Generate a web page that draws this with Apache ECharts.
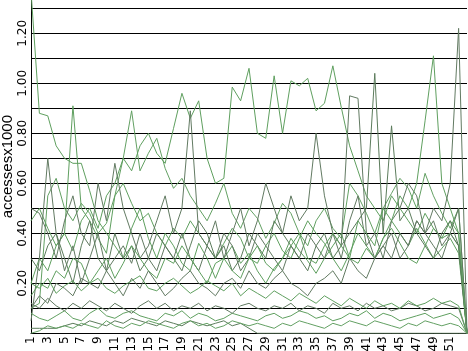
<!DOCTYPE html>
<html><head><meta charset="utf-8">
<script src="https://cdn.jsdelivr.net/npm/echarts@6/dist/echarts.min.js"></script>
<style>html,body{margin:0;padding:0;background:#fff}#c{width:468px;height:351px}</style>
</head><body><div id="c"></div>
<script>
const categories = Array.from({length:53},(_,i)=>String(i+1));
const yTicks = [0.2,0.4,0.6,0.8,1.0,1.2];
const s1 = [1.37,0.88,0.87,0.75,0.70,0.68,0.68,0.57,0.45,0.40,0.35,0.30,0.42,0.50,0.38,0.30,0.40,0.35,0.28,0.25,0.36,0.30,0.22,0.30,0.35,0.28,0.32,0.25,0.20,0.26,0.30,0.38,0.33,0.29,0.24,0.30,0.35,0.40,0.30,0.28,0.34,0.30,0.38,0.45,0.40,0.35,0.42,0.36,0.30,0.34,0.38,0.32,0];
const s2 = [0.45,0.50,0.42,0.35,0.40,0.91,0.50,0.45,0.38,0.32,0.55,0.60,0.52,0.45,0.48,0.40,0.35,0.42,0.38,0.45,0.40,0.35,0.30,0.36,0.42,0.38,0.30,0.28,0.35,0.40,0.33,0.30,0.38,0.45,0.40,0.36,0.30,0.25,0.32,0.40,0.35,0.30,0.38,0.42,0.36,0.30,0.28,0.35,0.42,0.38,0.40,0.35,0];
const s3 = [0.10,0.12,0.55,0.62,0.50,0.45,0.52,0.48,0.40,0.44,0.55,0.70,0.89,0.65,0.72,0.78,0.66,0.58,0.62,0.55,0.50,0.45,0.52,0.60,0.48,0.42,0.50,0.46,0.38,0.44,0.52,0.48,0.40,0.35,0.45,0.50,0.42,0.38,0.60,0.55,0.48,0.40,0.50,0.56,0.62,0.58,0.50,0.64,0.55,0.48,0.42,0.50,0];
const s4 = [0.20,0.30,0.25,0.35,0.40,0.33,0.45,0.50,0.42,0.55,0.60,0.70,0.65,0.75,0.80,0.72,0.68,0.82,0.96,0.86,0.93,0.70,0.60,0.62,0.985,0.93,1.06,0.80,0.78,1.03,0.80,1.01,0.99,1.02,0.89,0.92,1.07,0.905,0.75,0.65,0.55,0.50,0.45,0.55,0.50,0.45,0.40,0.48,0.42,0.38,0.45,0.40,0];
const s5 = [0.50,0.48,0.40,0.30,0.45,0.55,0.40,0.35,0.60,0.45,0.68,0.50,0.40,0.30,0.35,0.45,0.55,0.40,0.50,0.89,0.40,0.35,0.45,0.30,0.40,0.50,0.35,0.45,0.60,0.50,0.40,0.55,0.45,0.50,0.80,0.55,0.40,0.30,0.45,0.55,0.35,0.40,0.30,0.45,0.50,0.60,0.55,0.40,0.45,0.35,0.40,0.50,0];
const s6 = [0.05,0.30,0.70,0.40,0.25,0.35,0.20,0.30,0.40,0.25,0.30,0.35,0.28,0.40,0.30,0.25,0.35,0.30,0.40,0.30,0.25,0.35,0.30,0.40,0.35,0.25,0.30,0.40,0.35,0.30,0.25,0.35,0.30,0.40,0.35,0.30,0.40,0.35,0.95,0.94,0.40,0.30,0.35,0.40,0.30,0.35,0.45,0.40,0.35,0.30,0.40,0.35,0];
const s7 = [0.30,0.25,0.35,0.40,0.30,0.20,0.35,0.45,0.30,0.25,0.40,0.30,0.35,0.25,0.30,0.40,0.35,0.30,0.25,0.35,0.45,0.40,0.30,0.35,0.25,0.30,0.40,0.35,0.30,0.45,0.40,0.35,0.30,0.25,0.35,0.40,0.30,0.35,0.40,0.45,0.50,1.04,0.40,0.83,0.45,0.50,0.40,0.35,0.30,0.40,0.45,0.35,0];
const s8 = [0.15,0.20,0.18,0.25,0.22,0.30,0.28,0.20,0.25,0.30,0.22,0.28,0.35,0.30,0.25,0.22,0.30,0.28,0.35,0.30,0.25,0.20,0.28,0.30,0.25,0.22,0.30,0.35,0.28,0.25,0.30,0.35,0.40,0.30,0.28,0.35,0.40,0.35,0.30,0.45,0.40,0.35,0.50,0.45,0.55,0.50,0.60,0.85,1.11,0.60,0.50,0.40,0];
const s9 = [0.10,0.15,0.12,0.20,0.18,0.15,0.22,0.20,0.18,0.25,0.20,0.15,0.22,0.18,0.25,0.20,0.15,0.18,0.22,0.25,0.20,0.18,0.15,0.20,0.22,0.18,0.25,0.20,0.18,0.22,0.25,0.20,0.18,0.15,0.20,0.22,0.25,0.20,0.30,0.25,0.22,0.30,0.35,0.30,0.40,0.35,0.45,0.40,0.50,0.45,0.60,1.22,0];
const s10 = [0.08,0.06,0.05,0.07,0.09,0.06,0.05,0.08,0.10,0.07,0.06,0.08,0.09,0.07,0.06,0.05,0.08,0.07,0.09,0.06,0.08,0.07,0.05,0.06,0.08,0.07,0.06,0.05,0.07,0.08,0.06,0.07,0.09,0.08,0.06,0.07,0.05,0.06,0.08,0.07,0.09,0.06,0.08,0.07,0.05,0.06,0.07,0.08,0.06,0.07,0.08,0.06,0];
const s11 = [0.02,0.02,0.02,0.02,0.03,0.04,0.03,0.05,0.04,0.03,0.05,0.04,0.06,0.05,0.04,0.03,0.05,0.04,0.03,0.05,0.04,0.03,0.04,0.05,0.03,0.04,0.02,0.00,0.00,0.00,0.00,0.00,0.00,0.00,0.00,0.00,0.00,0.00,0.00,0.00,0.00,0.00,0.00,0.00,0.00,0.00,0.00,0.00,0.00,0.00,0.00,0.00,0];
const s12 = [0.00,0.01,0.03,0.02,0.03,0.02,0.04,0.03,0.02,0.05,0.03,0.02,0.04,0.03,0.05,0.04,0.03,0.02,0.04,0.05,0.03,0.04,0.02,0.03,0.05,0.04,0.03,0.04,0.03,0.02,0.04,0.03,0.05,0.04,0.03,0.02,0.04,0.03,0.05,0.04,0.03,0.05,0.04,0.03,0.02,0.04,0.03,0.05,0.04,0.03,0.04,0.03,0];
const s13 = [0.12,0.10,0.14,0.11,0.09,0.12,0.10,0.13,0.11,0.09,0.12,0.10,0.08,0.11,0.13,0.10,0.12,0.09,0.11,0.10,0.12,0.09,0.11,0.10,0.08,0.11,0.12,0.10,0.09,0.11,0.10,0.12,0.09,0.11,0.10,0.08,0.12,0.10,0.11,0.09,0.12,0.10,0.11,0.09,0.10,0.12,0.11,0.09,0.10,0.12,0.11,0.10,0];
const s14 = [0.20,0.18,0.22,0.16,0.19,0.21,0.17,0.20,0.22,0.18,0.16,0.19,0.21,0.23,0.18,0.17,0.20,0.22,0.19,0.16,0.18,0.21,0.19,0.17,0.20,0.15,0.18,0.16,0.14,0.17,0.15,0.13,0.16,0.14,0.12,0.15,0.13,0.11,0.14,0.12,0.10,0.13,0.11,0.12,0.10,0.13,0.11,0.12,0.14,0.12,0.13,0.11,0];
const seriesData = [s1,s2,s3,s4,s5,s6,s7,s8,s9,s10,s11,s12,s13,s14];
const colors = ['#5f9f5f','#5f9f5f','#63a063','#5f9f5f','#627a62','#627a62','#5c7c5c','#5f9f5f','#627a62','#5f9f5f','#5c7c5c','#63a063','#627a62','#5f9f5f'];

const chart = echarts.init(document.getElementById('c'), null, {renderer:'canvas'});
chart.setOption({
  animation:false,
  backgroundColor:'#ffffff',
  grid:{left:31, top:0, width:436, height:333.3, containLabel:false, outerBoundsMode:'none'},
  xAxis:{type:'category', boundaryGap:false, data:categories,
    axisLine:{lineStyle:{color:'#000', width:1}}, axisTick:{show:false},
    axisLabel:{rotate:90, interval:1, color:'#000', fontFamily:'DejaVu Sans', fontSize:12, margin:3, padding:[4,0,0,0],
      formatter:v=>v==='53'?'':v},
    splitLine:{show:false}},
  yAxis:{type:'value', min:0, max:4/3, interval:0.1,
    axisLine:{show:true, lineStyle:{color:'#000', width:1}}, axisTick:{show:false},
    axisLabel:{rotate:90, align:'center', verticalAlign:'bottom', color:'#000', fontFamily:'DejaVu Sans', fontSize:12, margin:2,
      formatter:v=>{const t=yTicks.find(x=>Math.abs(x-v)<1e-6);return t!==undefined?t.toFixed(2):'';}},
    splitLine:{show:true, showMaxLine:false, lineStyle:{color:'#000', width:1}},
    name:'accessesx1000', nameLocation:'middle', nameGap:16, nameMoveOverlap:false,
    nameTextStyle:{fontFamily:'Liberation Sans', fontSize:15, color:'#000'}},
  series: seriesData.map((d,i)=>({type:'line', data:d, symbol:'none', silent:true,
    lineStyle:{width:1, color:colors[i]}, itemStyle:{color:colors[i]}}))
});
</script></body></html>
